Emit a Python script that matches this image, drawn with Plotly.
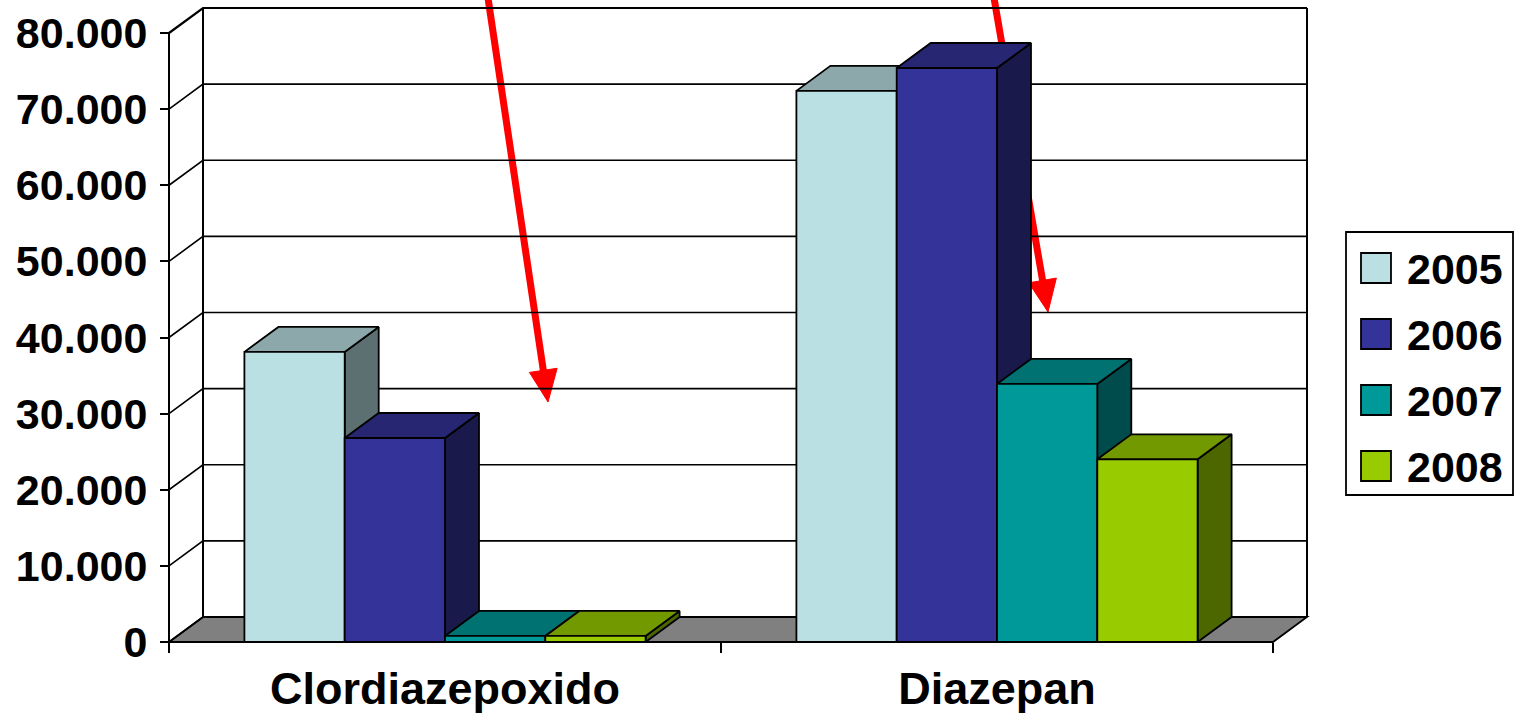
import plotly.graph_objects as go
import math

# ---------------- data ----------------
categories = ["Clordiazepoxido", "Diazepan"]
years = ["2005", "2006", "2007", "2008"]
v2005 = [38100, 72400]
v2006 = [26800, 75400]
v2007 = [800, 33900]
v2008 = [800, 24000]
series_values = [v2005, v2006, v2007, v2008]
y_ticks = [0, 10000, 20000, 30000, 40000, 50000, 60000, 70000, 80000]
y_tick_labels = [f"{v:,}".replace(",", ".") for v in y_ticks]

# ---------------- style ----------------
colors = ["#BBE0E3", "#333399", "#009999", "#99CC00"]
FONT = "Liberation Sans, Arial, sans-serif"

W, H = 1520, 721
PX_UNIT = 552.0            # px per category
SY = 609.0 / 80000.0       # px per value unit
DX = 34.0 / PX_UNIT        # depth offset (x)
DY = 25.0 / SY             # depth offset (y)
PADX = 3.0 / PX_UNIT
PADY = 3.0 / SY
BAR_W = 100.3 / PX_UNIT
YMAX = y_ticks[-1]

xr = [-0.5 - PADX, len(categories) - 0.5 + DX + PADX]
yr = [-PADY, YMAX + DY + PADY]
L_M, T_M = 166, 5
plot_w = (xr[1] - xr[0]) * PX_UNIT
plot_h = (yr[1] - yr[0]) * SY
R_M = W - L_M - plot_w
B_M = H - T_M - plot_h


def shade(hx, f):
    hx = hx.lstrip("#")
    r, g, b = (int(hx[i:i + 2], 16) for i in (0, 2, 4))
    return "#%02X%02X%02X" % (int(r * f), int(g * f), int(b * f))


def px2paper(px, py):
    return (px - L_M) / plot_w, (H - B_M - py) / plot_h


fig = go.Figure()

# bars as 3D prisms, painted left to right
n = len(series_values)
for ci in range(len(categories)):
    for k, vals in enumerate(series_values):
        h = vals[ci]
        L = ci - n * BAR_W / 2 + k * BAR_W
        R = L + BAR_W
        faces = [
            ([R, R + DX, R + DX, R, R], [0, DY, h + DY, h, 0], shade(colors[k], 0.5)),
            ([L, R, R + DX, L + DX, L], [h, h, h + DY, h + DY, h], shade(colors[k], 0.75)),
            ([L, R, R, L, L], [0, 0, h, h, 0], colors[k]),
        ]
        for fx, fy, col in faces:
            fig.add_trace(go.Scatter(
                x=fx, y=fy, mode="lines", fill="toself", fillcolor=col,
                line=dict(color="black", width=1.8), hoverinfo="skip",
                showlegend=False, name=years[k]))

shapes = []
x0f, x1f = -0.5, len(categories) - 0.5
# floor
shapes.append(dict(type="path", xref="x", yref="y", layer="below",
                   path=f"M{x0f},0 L{x1f},0 L{x1f + DX},{DY} L{x0f + DX},{DY} Z",
                   fillcolor="#808080", line=dict(color="black", width=1.8)))
# gridlines on side and back walls
for v in y_ticks:
    shapes.append(dict(type="path", xref="x", yref="y", layer="below",
                       path=f"M{x0f},{v} L{x0f + DX},{v + DY} L{x1f + DX},{v + DY}",
                       line=dict(color="black", width=2.2 if v == YMAX else 1.6)))
# wall verticals
for (xa, ya0, ya1) in [(x0f, 0, YMAX), (x0f + DX, DY, YMAX + DY), (x1f + DX, DY, YMAX + DY)]:
    shapes.append(dict(type="line", xref="x", yref="y", layer="below",
                       x0=xa, x1=xa, y0=ya0, y1=ya1,
                       line=dict(color="black", width=2)))

# red arrows (behind the bars)
for (tx, ty, hx_, hy_) in [(488, -2, 548, 402), (994, -2, 1048, 312)]:
    ux, uy = hx_ - tx, hy_ - ty
    ln = math.hypot(ux, uy)
    ux, uy = ux / ln, uy / ln
    hl, hw = 32, 14
    bx, by = hx_ - hl * ux, hy_ - hl * uy
    p1 = (bx - hw * uy, by + hw * ux)
    p2 = (bx + hw * uy, by - hw * ux)
    a, b = px2paper(tx, ty)
    c, d = px2paper(bx + 2 * ux, by + 2 * uy)
    shapes.append(dict(type="line", xref="paper", yref="paper", layer="below",
                       x0=a, y0=b, x1=c, y1=d, line=dict(color="#FF0000", width=7)))
    pts = [px2paper(hx_, hy_), px2paper(*p1), px2paper(*p2)]
    path = "M" + " L".join(f"{p[0]},{p[1]}" for p in pts) + " Z"
    shapes.append(dict(type="path", xref="paper", yref="paper", layer="below",
                       path=path, fillcolor="#FF0000", line=dict(color="#FF0000", width=1)))

# custom legend
annotations = []
bx0, by0 = px2paper(1346, 232)
bx1, by1 = px2paper(1513, 495)
shapes.append(dict(type="rect", xref="paper", yref="paper", x0=bx0, y0=by0, x1=bx1, y1=by1,
                   line=dict(color="black", width=1.8), fillcolor="white", layer="above"))
for k, yr_name in enumerate(years):
    cy = 268 + k * 66
    sx0, sy0 = px2paper(1361, cy - 15)
    sx1, sy1 = px2paper(1391, cy + 15)
    shapes.append(dict(type="rect", xref="paper", yref="paper", x0=sx0, y0=sy0, x1=sx1, y1=sy1,
                       fillcolor=colors[k], line=dict(color="black", width=1.8), layer="above"))
    tx, ty = px2paper(1405, cy + 1)
    annotations.append(dict(xref="paper", yref="paper", x=tx, y=ty, text=yr_name,
                            showarrow=False, xanchor="left", yanchor="middle",
                            font=dict(family=FONT, size=43, color="black", weight="bold")))

fig.update_layout(
    width=W, height=H, autosize=False,
    margin=dict(l=L_M, r=R_M, t=T_M, b=B_M, pad=0),
    paper_bgcolor="white", plot_bgcolor="white",
    showlegend=False, shapes=shapes, annotations=annotations,
    xaxis=dict(range=xr, anchor="free", position=3.0 / plot_h,
               tickmode="array", tickvals=list(range(len(categories))), ticktext=categories,
               ticks="", showgrid=False, zeroline=False, showline=False,
               ticklabelstandoff=16,
               tickfont=dict(family=FONT, size=45, color="black", weight="bold"),
               minor=dict(tickmode="array",
                          tickvals=[i - 0.5 for i in range(len(categories) + 1)],
                          ticks="outside", ticklen=10, tickwidth=1.6, tickcolor="black",
                          showgrid=False),
               fixedrange=True),
    yaxis=dict(range=yr, anchor="free", position=3.0 / plot_w,
               tickmode="array", tickvals=y_ticks, ticktext=y_tick_labels,
               ticks="outside", ticklen=9, tickwidth=1.6, tickcolor="black",
               showgrid=False, zeroline=False, showline=False,
               ticklabelstandoff=4,
               tickfont=dict(family=FONT, size=43, color="black", weight="bold"),
               fixedrange=True),
)

fig.write_html("out.html", config={"displayModeBar": False},
               post_script="document.body.style.margin='0';document.documentElement.style.overflow='hidden';")
